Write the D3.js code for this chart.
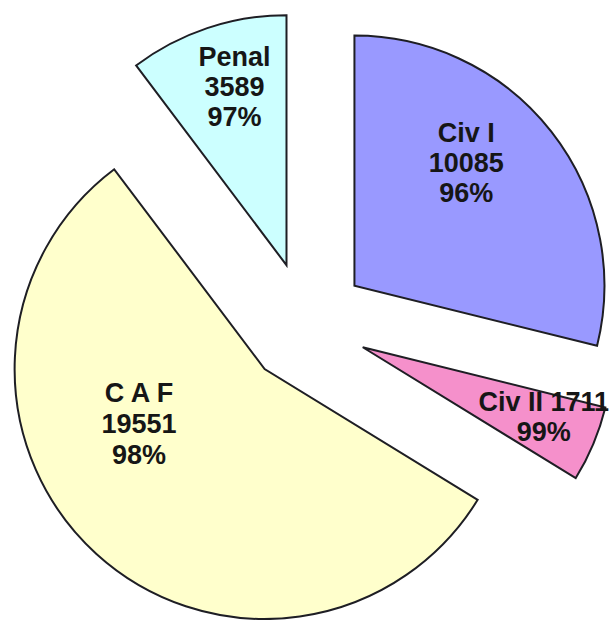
<!DOCTYPE html>
<html>
<head>
<meta charset="utf-8">
<script src="https://cdn.jsdelivr.net/npm/d3@7/dist/d3.min.js"></script>
<style>
  html, body { margin: 0; padding: 0; background: #fff; }
  svg { display: block; }
</style>
</head>
<body>
<svg id="chart" width="613" height="620"></svg>
<script>
// ---- data ----
const categories = ["Civ I", "Civ II", "C A F", "Penal"];
const values = [10085, 1711, 19551, 3589];
const percents = ["96%", "99%", "98%", "97%"];

// ---- styling / layout ----
const colors = ["#9999FF", "#F590CB", "#FFFFCC", "#CCFFFF"];
// label placement relative to each slice apex: [angle deg clockwise from top, distance]
const labelPolar = [[37.9, 182], [109.5, 192], [255.1, 130], [345.4, 206]];
// how label text is broken into lines
const labelLines = [
  d => [categories[0], String(values[0]), percents[0]],
  d => [categories[1] + " " + values[1], percents[1]],
  d => [categories[2], String(values[2]), percents[2]],
  d => [categories[3], String(values[3]), percents[3]]
];
const lineGap = [30, 30, 31, 30];

const width = 613, height = 620;
const cx = 306, cy = 323.5, radius = 250, explode = 61.5;

const svg = d3.select("#chart");
const g = svg.append("g").attr("transform", `translate(${cx},${cy})`);

const pie = d3.pie().sort(null).value(d => d).startAngle(0).endAngle(2 * Math.PI);
const arc = d3.arc().innerRadius(0).outerRadius(radius);
const arcs = pie(values);

const slices = g.selectAll("g.slice")
  .data(arcs)
  .enter().append("g")
  .attr("class", "slice")
  .attr("transform", d => {
    const mid = (d.startAngle + d.endAngle) / 2;
    return `translate(${explode * Math.sin(mid)},${-explode * Math.cos(mid)})`;
  });

slices.append("path")
  .attr("d", arc)
  .attr("fill", (d, i) => colors[i])
  .attr("stroke", "#1e1e24")
  .attr("stroke-width", 2)
  .attr("stroke-linejoin", "miter");

slices.append("text")
  .attr("text-anchor", "middle")
  .attr("font-family", "'Liberation Sans', Arial, sans-serif")
  .attr("font-weight", "bold")
  .attr("font-size", 27)
  .attr("fill", "#161616")
  .each(function (d, i) {
    const a = labelPolar[i][0] * Math.PI / 180, r = labelPolar[i][1];
    const x = r * Math.sin(a), y = -r * Math.cos(a);
    const t = d3.select(this);
    labelLines[i](d).forEach((line, k) => {
      t.append("tspan").attr("x", x).attr("y", y + k * lineGap[i]).text(line);
    });
  });
</script>
</body>
</html>
